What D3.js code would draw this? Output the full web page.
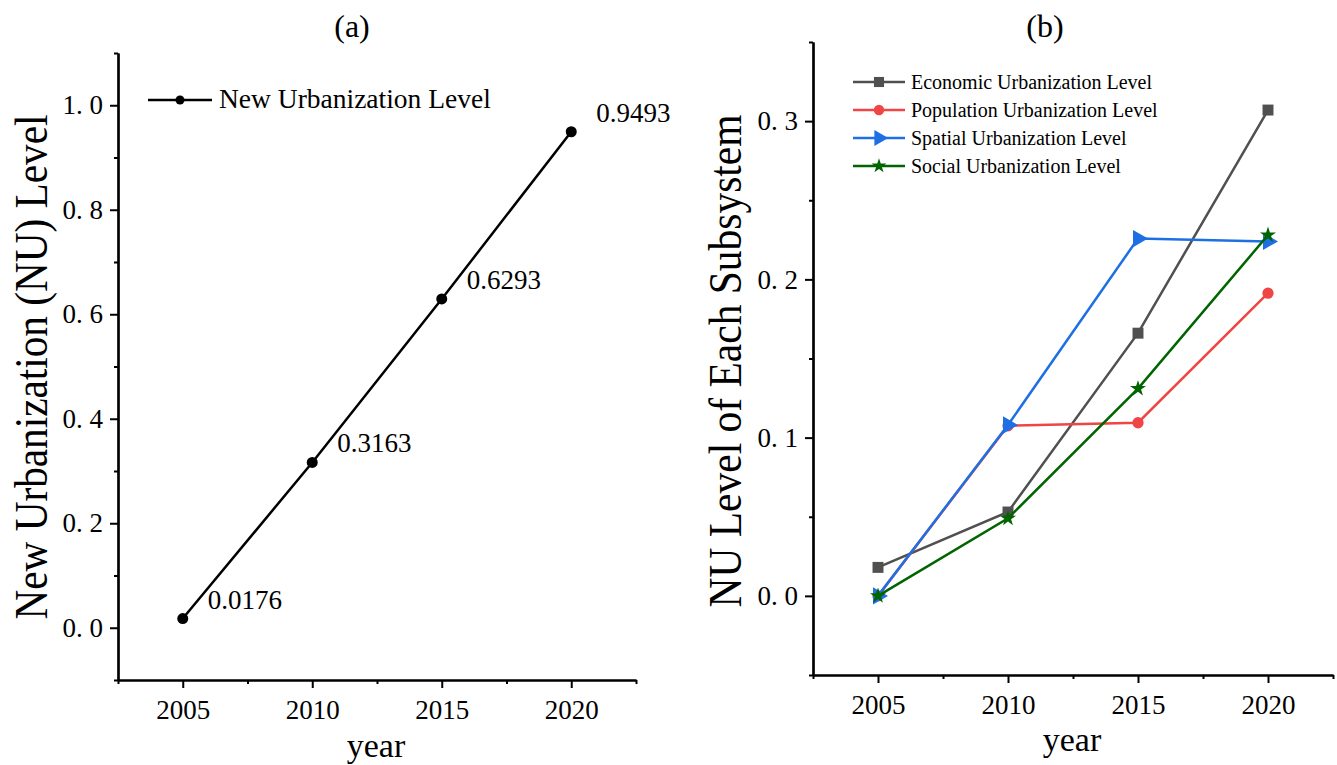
<!DOCTYPE html>
<html><head><meta charset="utf-8">
<script src="https://cdn.jsdelivr.net/npm/d3@7"></script>
<style>body{margin:0;background:#fff}svg{display:block;font-family:"Liberation Serif","Times New Roman",serif}</style>
</head><body><svg id="c" width="1337" height="765"></svg>
<script>
const years = [2005, 2010, 2015, 2020];
const nuLevel = [0.0176, 0.3163, 0.6293, 0.9493];
const nuLabels = ["0.0176", "0.3163", "0.6293", "0.9493"];
const economic = [0.018, 0.053, 0.166, 0.307];
const population = [0.0, 0.1075, 0.1094, 0.1913];
const spatial = [0.0, 0.108, 0.2258, 0.224];
const social = [0.0, 0.049, 0.131, 0.228];
const seriesNames = ["Economic Urbanization Level", "Population Urbanization Level", "Spatial Urbanization Level", "Social Urbanization Level"];
const yTicksA = [0, 0.2, 0.4, 0.6, 0.8, 1.0];
const yTicksB = [0, 0.1, 0.2, 0.3];

const svg = d3.select("#c");
const fmt = d3.format(".1f");

function axes(g, x, y, yMajor, yMinor, xMajor, xMinor) {
  const [x0, x1] = x.range(), [y0, y1] = y.range();
  const xa = g.append("g").attr("transform", `translate(0,${y0})`)
    .call(d3.axisBottom(x).tickValues(xMajor).tickFormat(d3.format("d")).tickSize(8).tickSizeOuter(0));
  g.append("g").attr("transform", `translate(0,${y0})`)
    .call(d3.axisBottom(x).tickValues(xMinor).tickFormat("").tickSize(4).tickSizeOuter(0));
  const ya = g.append("g").attr("transform", `translate(${x0},0)`)
    .call(d3.axisLeft(y).tickValues(yMajor).tickFormat(d => fmt(d).replace(".", ". ")).tickSize(8).tickSizeOuter(0));
  g.append("g").attr("transform", `translate(${x0},0)`)
    .call(d3.axisLeft(y).tickValues(yMinor).tickFormat("").tickSize(4).tickSizeOuter(0));
  g.selectAll(".domain").attr("stroke", "#000").attr("stroke-width", 2.2);
  g.selectAll(".tick line").attr("stroke", "#000").attr("stroke-width", 2);
  xa.selectAll("text").attr("font-size", 27).attr("fill", "#000").attr("dy", "1.05em").attr("font-family", "Liberation Serif");
  ya.selectAll("text").attr("font-size", 27).attr("fill", "#000").attr("dx", "-0.15em").attr("font-family", "Liberation Serif").style("white-space", "pre");
}

// ---------- Panel (a)
{
  const g = svg.append("g");
  const x = d3.scaleLinear().domain([2002.5, 2022.5]).range([118, 636]);
  const y = d3.scaleLinear().domain([-0.1, 1.1]).range([680, 53]);
  axes(g, x, y, yTicksA, [-0.1, 0.1, 0.3, 0.5, 0.7, 0.9, 1.1], years, [2002.5, 2007.5, 2012.5, 2017.5, 2022.5]);
  const line = d3.line().x((d, i) => x(years[i])).y(d => y(d));
  g.append("path").datum(nuLevel).attr("d", line).attr("fill", "none").attr("stroke", "#000").attr("stroke-width", 2.5);
  g.selectAll(".pt").data(nuLevel).join("circle").attr("cx", (d, i) => x(years[i])).attr("cy", d => y(d)).attr("r", 5.5).attr("fill", "#000");
  g.selectAll(".lab").data(nuLabels).join("text").attr("x", (d, i) => x(years[i]) + 25).attr("y", (d, i) => y(nuLevel[i]) - 10)
    .attr("font-size", 27).text(d => d);
  // legend
  g.append("line").attr("x1", 148).attr("x2", 212).attr("y1", 100).attr("y2", 100).attr("stroke", "#000").attr("stroke-width", 2.5);
  g.append("circle").attr("cx", 180).attr("cy", 100).attr("r", 4.5).attr("fill", "#000");
  g.append("text").attr("x", 219).attr("y", 108).attr("font-size", 27.5).text("New Urbanization Level");
  g.append("text").attr("x", 352).attr("y", 37).attr("text-anchor", "middle").attr("font-size", 32).text("(a)");
  g.append("text").attr("x", 376).attr("y", 757).attr("text-anchor", "middle").attr("font-size", 34).text("year");
  g.append("text").attr("transform", "translate(47,367) rotate(-90)").attr("text-anchor", "middle").attr("font-size", 46)
    .attr("textLength", 505).attr("lengthAdjust", "spacingAndGlyphs").text("New Urbanization (NU) Level");
}

// ---------- Panel (b)
{
  const g = svg.append("g");
  const x = d3.scaleLinear().domain([2002.5, 2022.5]).range([813, 1333]);
  const y = d3.scaleLinear().domain([-0.05, 0.35]).range([675, 42]);
  axes(g, x, y, yTicksB, [-0.05, 0.05, 0.15, 0.25, 0.35], years, [2002.5, 2007.5, 2012.5, 2017.5, 2022.5]);
  const data = [economic, population, spatial, social];
  const colors = ["#505050", "#ef4545", "#1e6fe3", "#006400"];
  const symbols = [d3.symbolSquare, d3.symbolCircle, d3.symbolTriangle, d3.symbolStar];
  const sizes = [120, 100, 130, 80];
  const rot = [0, 0, 90, 0];
  const line = d3.line().x((d, i) => x(years[i])).y(d => y(d));
  data.forEach((vals, k) => {
    g.append("path").datum(vals).attr("d", line).attr("fill", "none").attr("stroke", colors[k]).attr("stroke-width", 2.5);
    g.selectAll(null).data(vals).join("path")
      .attr("transform", (d, i) => `translate(${x(years[i])},${y(d)}) rotate(${rot[k]})`)
      .attr("d", d3.symbol().type(symbols[k]).size(sizes[k])).attr("fill", colors[k]);
  });
  // legend
  seriesNames.forEach((name, k) => {
    const ly = 82 + k * 28;
    g.append("line").attr("x1", 853).attr("x2", 905).attr("y1", ly).attr("y2", ly).attr("stroke", colors[k]).attr("stroke-width", 2.5);
    g.append("path").attr("transform", `translate(879,${ly}) rotate(${rot[k]})`).attr("d", d3.symbol().type(symbols[k]).size(sizes[k] * 0.85)).attr("fill", colors[k]);
    g.append("text").attr("x", 911).attr("y", ly + 7).attr("font-size", 20).text(name);
  });
  g.append("text").attr("x", 1072).attr("y", 37).attr("text-anchor", "middle").attr("font-size", 32).text("(b)").attr("x", 1045);
  g.append("text").attr("x", 1072).attr("y", 751).attr("text-anchor", "middle").attr("font-size", 34).text("year");
  g.append("text").attr("transform", "translate(741,361) rotate(-90)").attr("text-anchor", "middle").attr("font-size", 46)
    .attr("textLength", 493).attr("lengthAdjust", "spacingAndGlyphs").text("NU Level of Each Subsystem");
}
</script></body></html>
